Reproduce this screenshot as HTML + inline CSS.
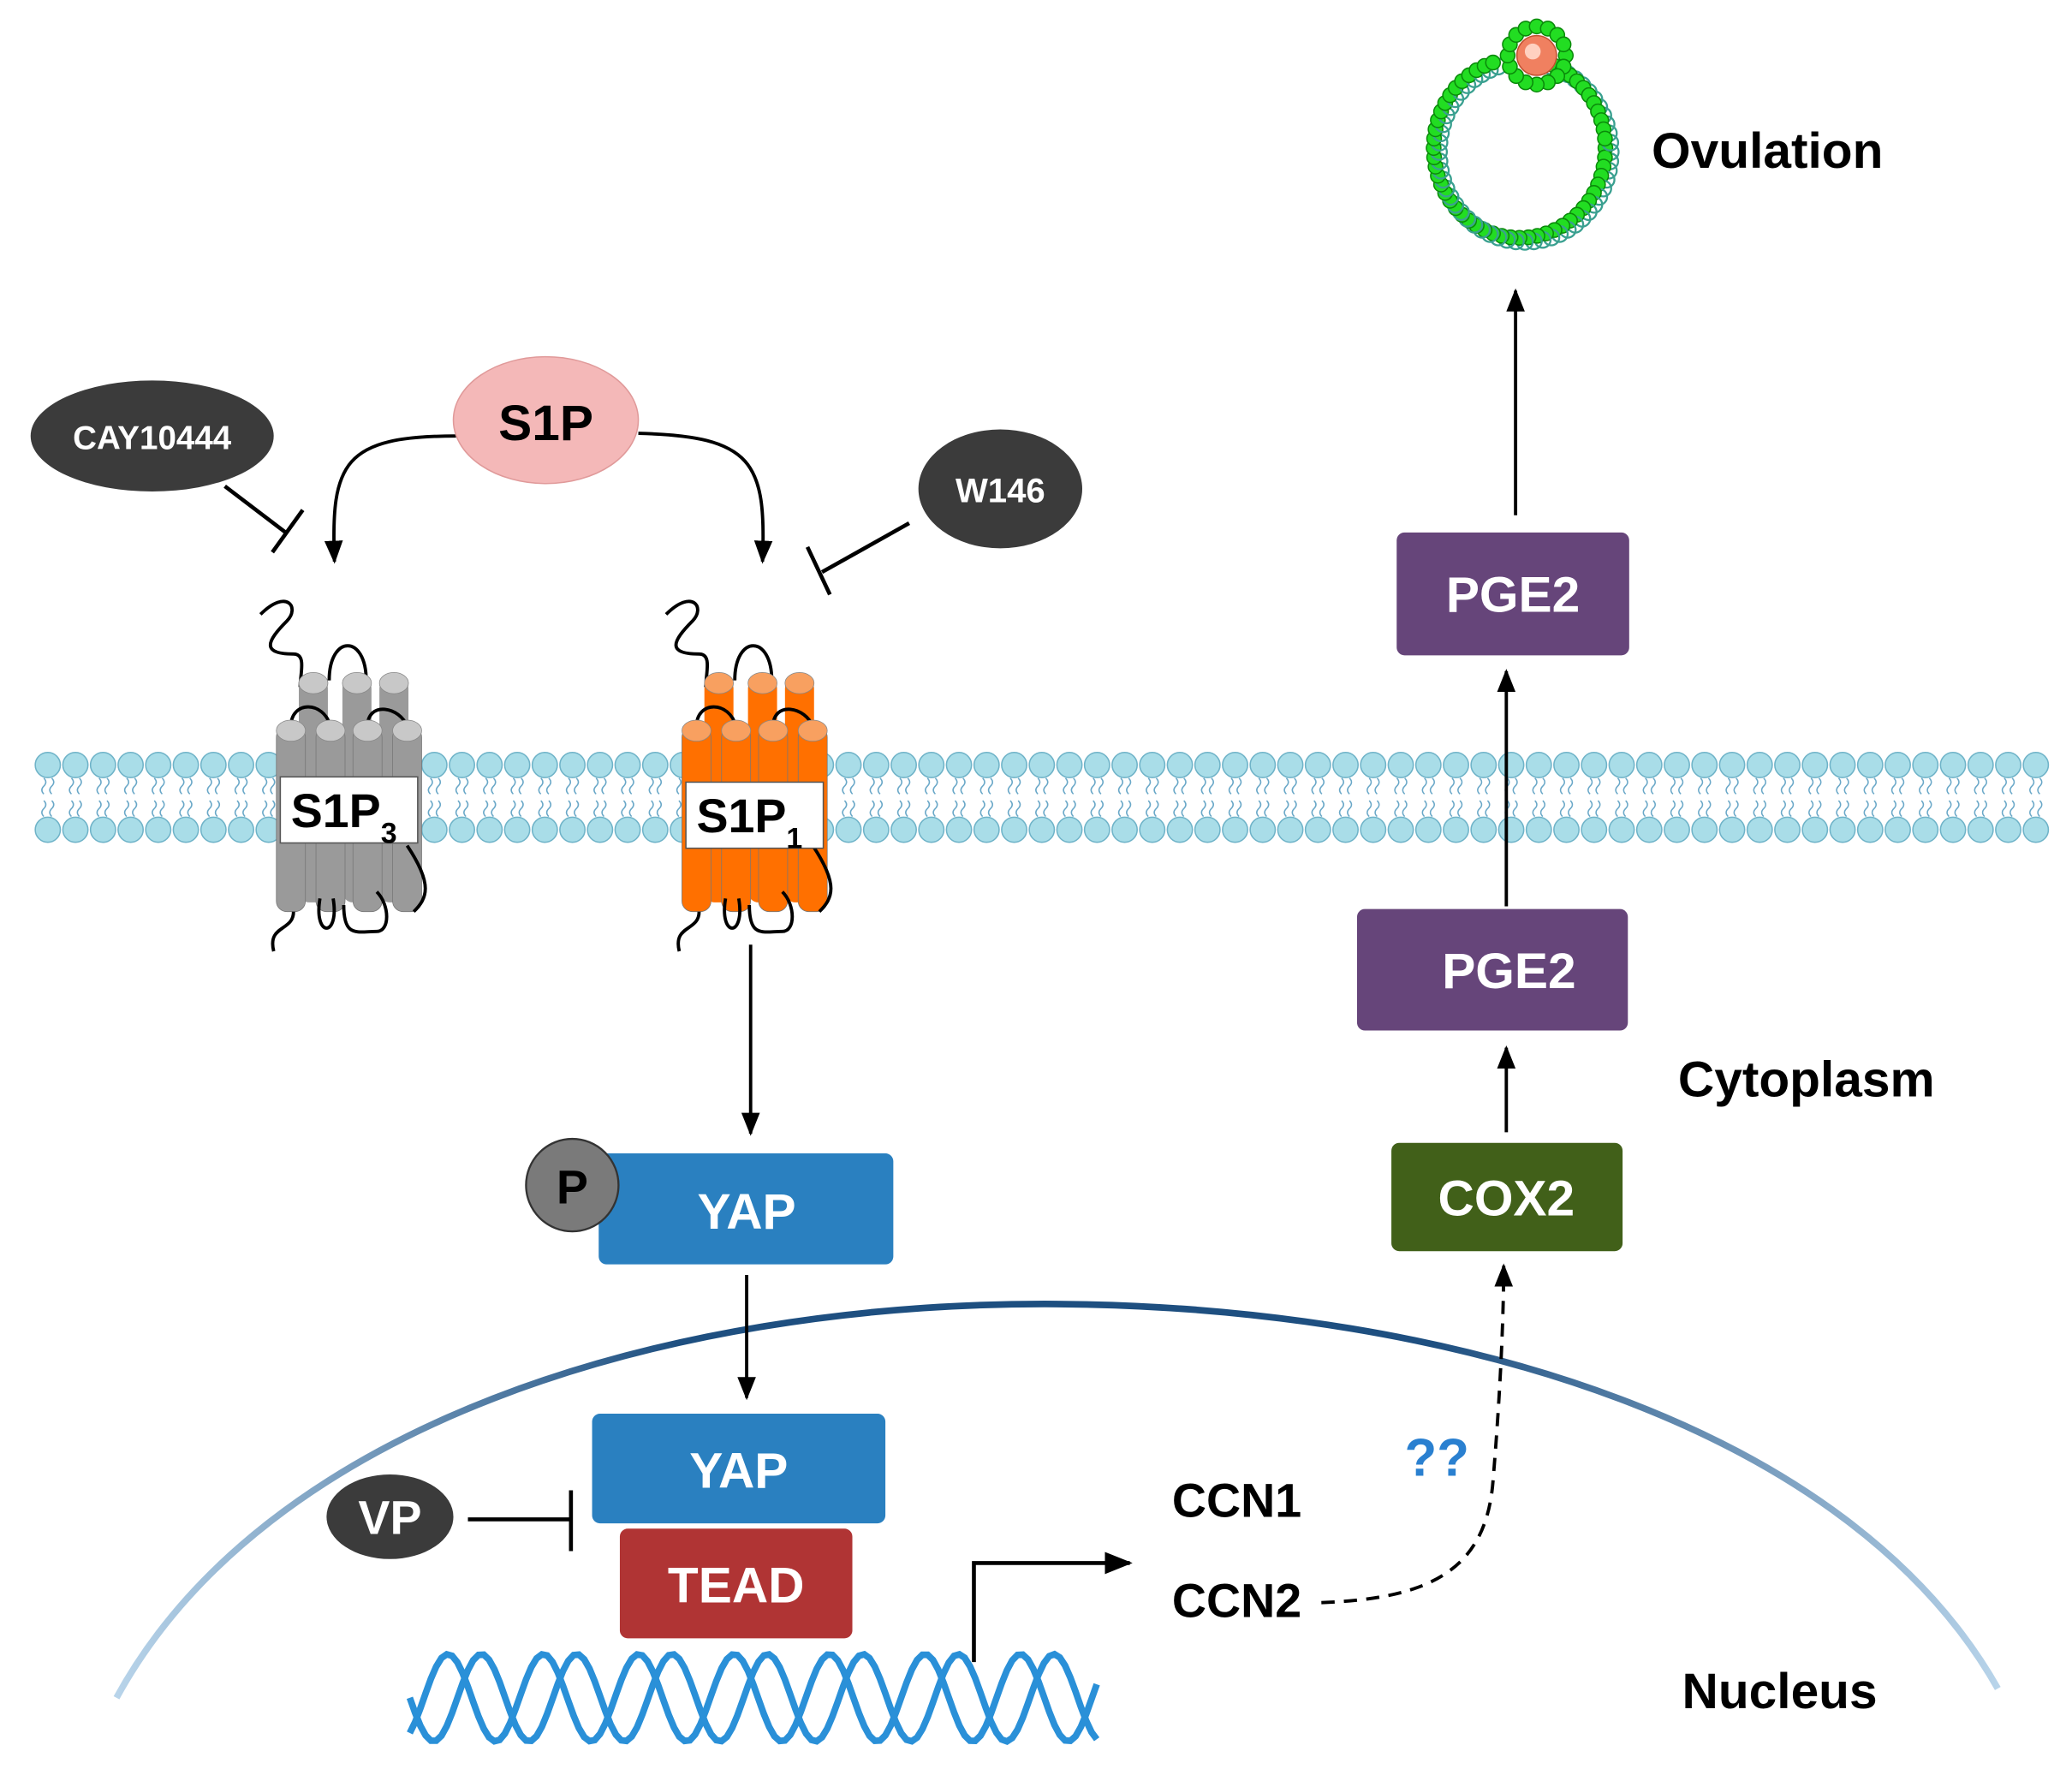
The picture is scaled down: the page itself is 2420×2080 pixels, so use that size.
<!DOCTYPE html>
<html><head><meta charset="utf-8"><style>
html,body{margin:0;padding:0;background:#fff;}
svg{display:block;}
text{font-family:"Liberation Sans",sans-serif;font-weight:bold;}
</style></head><body>
<svg id="s" width="2420" height="2080" viewBox="0 0 1568 1348" xmlns="http://www.w3.org/2000/svg">
<defs>
<marker id="ah" viewBox="0 0 10 10" refX="9" refY="5" markerWidth="7" markerHeight="7" orient="auto"><path d="M0,1 L10,5 L0,9 z" fill="#000"/></marker>
<linearGradient id="ng" x1="0" x2="1" y1="0" y2="0">
<stop offset="0" stop-color="#b8d4ea"/><stop offset="0.3" stop-color="#1e4f80"/><stop offset="0.7" stop-color="#1e4f80"/><stop offset="1" stop-color="#b8d4ea"/></linearGradient>
</defs>
<g id="mem"></g>
<!-- nucleus -->
<path d="M88,1285 C200,1080 500,985 800,987 C1100,989 1400,1080 1512,1278" fill="none" stroke="url(#ng)" stroke-width="5"/>
<!-- receptors -->
<g id="r3"></g><g id="r1"></g>
<rect x="212" y="588" width="104" height="50" fill="#fff" stroke="#555" stroke-width="1"/>
<text x="220" y="626" font-size="36">S1P<tspan font-size="22" dy="12">3</tspan></text>
<rect x="519" y="592" width="104" height="50" fill="#fff" stroke="#555" stroke-width="1"/>
<text x="527" y="630" font-size="36">S1P<tspan font-size="22" dy="12">1</tspan></text>
<!-- S1P ligands -->
<path d="M345,330 C260,330 250,350 253,425" fill="none" stroke="#000" stroke-width="2.5" marker-end="url(#ah)"/>
<path d="M483,328 C570,330 580,350 577,425" fill="none" stroke="#000" stroke-width="2.5" marker-end="url(#ah)"/>
<ellipse cx="413" cy="318" rx="70" ry="48" fill="#f4b8b8" stroke="#e09a9a"/>
<text x="413" y="333" font-size="38" text-anchor="middle">S1P</text>
<ellipse cx="115" cy="330" rx="92" ry="42" fill="#3b3b3b"/>
<text x="115" y="340" font-size="25" fill="#fff" text-anchor="middle">CAY10444</text>
<line x1="170" y1="368" x2="216" y2="403" stroke="#000" stroke-width="3"/>
<line x1="229" y1="386" x2="206" y2="418" stroke="#000" stroke-width="3"/>
<ellipse cx="757" cy="370" rx="62" ry="45" fill="#3b3b3b"/>
<text x="757" y="380" font-size="26" fill="#fff" text-anchor="middle">W146</text>
<line x1="688" y1="396" x2="622" y2="433" stroke="#000" stroke-width="3"/>
<line x1="611" y1="414" x2="628" y2="450" stroke="#000" stroke-width="3"/>
<!-- YAP cascade -->
<line x1="568" y1="715" x2="568" y2="858" stroke="#000" stroke-width="2.5" marker-end="url(#ah)"/>
<rect x="453" y="873" width="223" height="84" rx="6" fill="#2a80c0"/>
<text x="565" y="930" font-size="38" fill="#fff" text-anchor="middle">YAP</text>
<circle cx="433" cy="897" r="35" fill="#7a7a7a" stroke="#333" stroke-width="1.5"/>
<text x="433" y="911" font-size="36" text-anchor="middle">P</text>
<line x1="565" y1="965" x2="565" y2="1058" stroke="#000" stroke-width="2.5" marker-end="url(#ah)"/>
<rect x="448" y="1070" width="222" height="83" rx="6" fill="#2a80c0"/>
<text x="559" y="1126" font-size="38" fill="#fff" text-anchor="middle">YAP</text>
<rect x="469" y="1157" width="176" height="83" rx="6" fill="#b03434"/>
<text x="557" y="1213" font-size="38" fill="#fff" text-anchor="middle">TEAD</text>
<ellipse cx="295" cy="1148" rx="48" ry="32" fill="#3b3b3b"/>
<text x="295" y="1161" font-size="36" fill="#fff" text-anchor="middle">VP</text>
<line x1="354" y1="1150" x2="432" y2="1150" stroke="#000" stroke-width="3"/>
<line x1="432" y1="1128" x2="432" y2="1174" stroke="#000" stroke-width="3"/>
<g id="dna"></g>
<polyline points="737,1258 737,1183 855,1183" fill="none" stroke="#000" stroke-width="3" marker-end="url(#ah)"/>
<text x="887" y="1148" font-size="36">CCN1</text>
<text x="887" y="1224" font-size="36">CCN2</text>
<path d="M1000,1213 C1080,1210 1125,1190 1130,1120 C1135,1060 1138,1000 1138,958" fill="none" stroke="#000" stroke-width="2.5" stroke-dasharray="10,7" marker-end="url(#ah)"/>
<text x="1063" y="1117" font-size="40" fill="#2a80d0">??</text>
<!-- right column -->
<rect x="1053" y="865" width="175" height="82" rx="6" fill="#416019"/>
<text x="1140" y="920" font-size="38" fill="#fff" text-anchor="middle">COX2</text>
<line x1="1140" y1="857" x2="1140" y2="793" stroke="#000" stroke-width="2.5" marker-end="url(#ah)"/>
<rect x="1027" y="688" width="205" height="92" rx="6" fill="#66457a"/>
<text x="1142" y="748" font-size="38" fill="#fff" text-anchor="middle">PGE2</text>
<line x1="1140" y1="686" x2="1140" y2="508" stroke="#000" stroke-width="2.5" marker-end="url(#ah)"/>
<rect x="1057" y="403" width="176" height="93" rx="6" fill="#66457a"/>
<text x="1145" y="463" font-size="38" fill="#fff" text-anchor="middle">PGE2</text>
<line x1="1147" y1="390" x2="1147" y2="220" stroke="#000" stroke-width="2.5" marker-end="url(#ah)"/>
<g id="fol"></g>
<text x="1250" y="127" font-size="38">Ovulation</text>
<text x="1270" y="830" font-size="38">Cytoplasm</text>
<text x="1273" y="1293" font-size="38">Nucleus</text>
</svg>
<script>
var NS="http://www.w3.org/2000/svg";
function el(p,t,a){var e=document.createElementNS(NS,t);for(var k in a)e.setAttribute(k,a[k]);p.appendChild(e);return e;}
var m=document.getElementById("mem");
for(var x=36;x<=1542;x+=20.9){
 [[589,600],[606,617]].forEach(function(r){el(m,"path",{d:"M"+(x-3)+","+r[0]+" q3,3 0,6 q-3,3 0,6 M"+(x+3)+","+r[0]+" q3,3 0,6 q-3,3 0,6",fill:"none",stroke:"#6aa8c8","stroke-width":1});});
 el(m,"circle",{cx:x,cy:579,r:9.5,fill:"#a9dde8",stroke:"#6fb3c8","stroke-width":1});
 el(m,"circle",{cx:x,cy:628,r:9.5,fill:"#a9dde8",stroke:"#6fb3c8","stroke-width":1});
}
function rec(id,ox,body,top){
 var g=document.getElementById(id);
 el(g,"path",{d:"M"+(ox-15)+",465 c20,-20 30,-5 20,5 c-15,15 -20,25 5,25 c10,0 5,15 5,25 M"+(ox+37)+",515 c0,-35 28,-35 28,0",fill:"none",stroke:"#000","stroke-width":2.5});
 var back=[ox+25,ox+58,ox+86],front=[ox+8,ox+38,ox+66,ox+96];
 back.forEach(function(c){el(g,"rect",{x:c-11,y:513,width:22,height:170,rx:8,fill:body});el(g,"ellipse",{cx:c,cy:517,rx:11,ry:8,fill:top,stroke:"#888","stroke-width":0.5});});
 el(g,"path",{d:"M"+(ox+8)+",550 c0,-20 25,-20 30,0 M"+(ox+66)+",550 c0,-20 25,-15 30,0",fill:"none",stroke:"#000","stroke-width":2.5});
 front.forEach(function(c){el(g,"rect",{x:c-11,y:550,width:22,height:140,rx:8,fill:body,stroke:"#777","stroke-width":0.5});el(g,"ellipse",{cx:c,cy:553,rx:11,ry:8,fill:top,stroke:"#888","stroke-width":0.5});});
 el(g,"path",{d:"M"+(ox+40)+",680 c5,30 -15,30 -10,0 M"+(ox-5)+",720 c-5,-20 15,-15 15,-30 M"+(ox+48)+",685 c0,25 10,20 25,20 c10,0 10,-20 0,-30 M"+(ox+96)+",640 c20,30 15,40 5,50",fill:"none",stroke:"#000","stroke-width":2.5});
}
rec("r3",212,"#9a9a9a","#c8c8c8");
rec("r1",519,"#ff7000","#f8a060");
var d=document.getElementById("dna");
function wave(ph){var s="";for(var x=310;x<=830;x+=4){var y=1285+33*Math.sin((x-310)/520*2*Math.PI*7.2+ph);s+=(x==310?"M":"L")+x+","+y.toFixed(1);}return s;}
el(d,"path",{d:wave(0),fill:"none",stroke:"#2a90d8","stroke-width":5});
el(d,"path",{d:wave(2.2),fill:"none",stroke:"#2a90d8","stroke-width":5});
var f=document.getElementById("fol");
for(var i=0;i<60;i++){var a=i/60*2*Math.PI;var cx=1150+65*Math.cos(a),cy=112+68*Math.sin(a);
 if(Math.abs(a-4.71)<0.25)continue;
 el(f,"circle",{cx:cx+4,cy:cy+3,r:6,fill:"none",stroke:"#3aa090","stroke-width":1.5});
 el(f,"circle",{cx:cx,cy:cy,r:5.5,fill:"#22dd22",stroke:"#0a8a0a","stroke-width":1});}
for(var i=0;i<16;i++){var a=i/16*2*Math.PI;el(f,"circle",{cx:1163+22*Math.cos(a),cy:42+22*Math.sin(a),r:5.5,fill:"#22dd22",stroke:"#0a8a0a","stroke-width":1});}
el(f,"circle",{cx:1163,cy:42,r:15,fill:"#f08060",stroke:"#c05030"});
el(f,"circle",{cx:1160,cy:39,r:6,fill:"#ffd0c0"});
</script>
</body></html>
